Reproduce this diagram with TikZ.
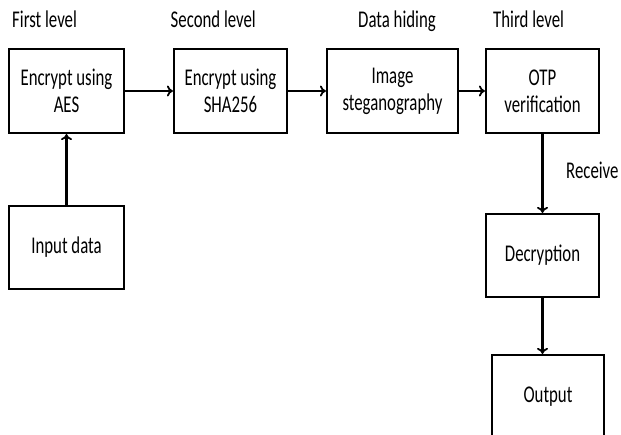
\documentclass[tikz,border=0pt]{standalone}
\usepackage{fontspec}
\setmainfont{Carlito}[FakeStretch=0.7]
\usetikzlibrary{arrows.meta, positioning}
\tikzstyle{stage} = [rectangle, draw=black, line width=2.2pt, inner sep=2pt, align=center, font=\fontsize{24}{27}\selectfont]
\tikzstyle{level} = [anchor=base west, inner sep=0pt, font=\fontsize{24}{27}\selectfont]
\tikzstyle{arrow} = [line width=2.2pt, -{To[length=6pt, width=11pt, line width=1.8pt]}]

\begin{document}
\begin{tikzpicture}[x=1pt, y=-1pt]
    \useasboundingbox (0,0) rectangle (621,435);

    \node (aes) [stage, minimum width=115pt, minimum height=84pt] at (66.5,91) {Encrypt using\\AES};
    \node (sha) [stage, minimum width=113pt, minimum height=84pt] at (230.5,91) {Encrypt using\\SHA256};
    \node (stego) [stage, minimum width=131pt, minimum height=84pt] at (392.5,91) {Image\\steganography};
    \node (otp) [stage, minimum width=113pt, minimum height=84pt] at (542.5,91) {OTP\\verification};
    \node (input) [stage, minimum width=115pt, minimum height=83pt] at (66.5,247.5) {Input data};
    \node (decrypt) [stage, minimum width=113pt, minimum height=83pt] at (542.5,255.5) {Decryption};
    \node (output) [stage, minimum width=112pt, minimum height=84pt] at (548,397) {Output};

    \node (first) [level] at (12,27.7) {First level};
    \node (second) [level] at (170.5,27.7) {Second level};
    \node (hiding) [level] at (358,27.7) {Data hiding};
    \node (third) [level] at (493,27.7) {Third level};
    \node (receive) [level] at (566,179) {Receive};

    \draw [arrow] (input) -- (aes);
    \draw [arrow] (aes) -- (sha);
    \draw [arrow] (sha) -- (stego);
    \draw [arrow] (stego) -- (otp);
    \draw [arrow] (otp) -- (decrypt);
    \draw [arrow] (decrypt.south) -- (decrypt.south |- output.north);

\end{tikzpicture}
\end{document}
